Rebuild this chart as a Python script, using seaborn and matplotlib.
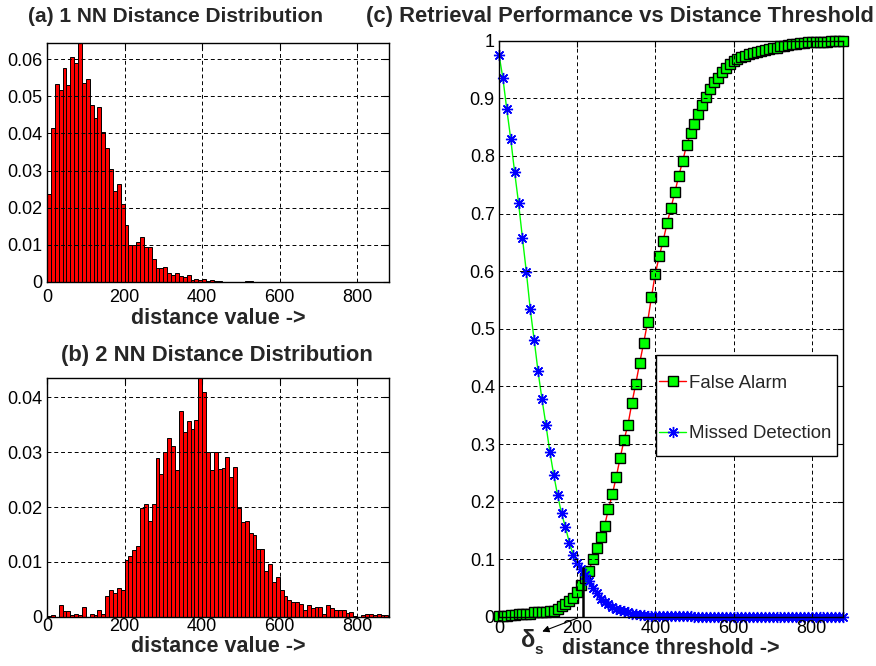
import numpy as np
import pandas as pd
import matplotlib
matplotlib.use("Agg")
import matplotlib.pyplot as plt
from matplotlib.patches import Rectangle
from matplotlib.ticker import FuncFormatter
import seaborn as sns

# histogram values, bin width 10 from 0 to 880 (fraction of samples per bin)
nn1_hist = [0.0238, 0.0415, 0.0533, 0.0517, 0.0578, 0.0530, 0.0607, 0.0589, 0.0660, 0.0535,
            0.0546, 0.0478, 0.0441, 0.0472, 0.0404, 0.0362, 0.0303, 0.0245, 0.0263, 0.0210,
            0.0153, 0.0099, 0.0099, 0.0107, 0.0120, 0.0095, 0.0093, 0.0060, 0.0038, 0.0038,
            0.0041, 0.0024, 0.0017, 0.0024, 0.0015, 0.0012, 0.0017, 0.0005, 0.0006, 0.0005,
            0.0006, 0.0003, 0.0005, 0.0002, 0.0001, 0, 0, 0, 0, 0,
            0, 0.0003, 0.0003, 0, 0, 0, 0, 0, 0, 0,
            0, 0, 0, 0, 0, 0, 0, 0, 0, 0,
            0, 0, 0, 0, 0, 0, 0, 0, 0, 0,
            0, 0, 0, 0, 0, 0, 0, 0]

nn2_hist = [0.0002, 0.0003, 0, 0.0021, 0.0010, 0.0010, 0.0004, 0.0005, 0.0004, 0.0017,
            0, 0.0005, 0.0004, 0.0013, 0.0005, 0.0037, 0.0049, 0.0043, 0.0052, 0.0049,
            0.0103, 0.0111, 0.0122, 0.0129, 0.0199, 0.0205, 0.0174, 0.0205, 0.0289, 0.0261,
            0.0300, 0.0326, 0.0312, 0.0268, 0.0376, 0.0337, 0.0357, 0.0343, 0.0359, 0.0440,
            0.0410, 0.0301, 0.0268, 0.0300, 0.0269, 0.0271, 0.0291, 0.0254, 0.0274, 0.0198,
            0.0172, 0.0175, 0.0153, 0.0149, 0.0123, 0.0123, 0.0083, 0.0096, 0.0064, 0.0072,
            0.0049, 0.0037, 0.0030, 0.0027, 0.0027, 0.0023, 0.0012, 0.0021, 0.0015, 0.0018,
            0.0018, 0.0005, 0.0021, 0.0015, 0.0012, 0.0012, 0.0012, 0.0006, 0.0009, 0.0001,
            0, 0.0003, 0.0005, 0.0005, 0.0003, 0.0005, 0.0003, 0.0003]

# retrieval curves, threshold 0..880 step 10
false_alarm = [0.002, 0.002, 0.002, 0.003, 0.004, 0.005, 0.005, 0.006, 0.006, 0.008,
               0.008, 0.008, 0.009, 0.010, 0.010, 0.014, 0.019, 0.023, 0.028, 0.033,
               0.044, 0.055, 0.067, 0.080, 0.100, 0.120, 0.138, 0.158, 0.187, 0.213,
               0.243, 0.276, 0.307, 0.334, 0.371, 0.405, 0.441, 0.475, 0.511, 0.555,
               0.596, 0.626, 0.653, 0.683, 0.710, 0.737, 0.766, 0.791, 0.819, 0.839,
               0.856, 0.873, 0.889, 0.903, 0.916, 0.928, 0.936, 0.946, 0.952, 0.960,
               0.964, 0.968, 0.971, 0.974, 0.977, 0.979, 0.980, 0.982, 0.984, 0.985,
               0.987, 0.988, 0.990, 0.991, 0.993, 0.994, 0.995, 0.996, 0.996, 0.997,
               0.997, 0.997, 0.997, 0.998, 0.998, 0.999, 0.999, 0.999, 1.000]

missed_detection = [0.976, 0.935, 0.881, 0.830, 0.772, 0.719, 0.658, 0.599, 0.534, 0.481,
                    0.426, 0.378, 0.334, 0.287, 0.247, 0.211, 0.180, 0.156, 0.129, 0.108,
                    0.093, 0.083, 0.073, 0.063, 0.051, 0.041, 0.032, 0.026, 0.022, 0.018,
                    0.014, 0.012, 0.010, 0.008, 0.006, 0.005, 0.003, 0.003, 0.002, 0.002,
                    0.001, 0.001, 0.001, 0.001, 0.001, 0.001, 0.001, 0.001, 0.001, 0.001,
                    0.0005, 0.0003, 0, 0, 0, 0, 0, 0, 0, 0,
                    0, 0, 0, 0, 0, 0, 0, 0, 0, 0,
                    0, 0, 0, 0, 0, 0, 0, 0, 0, 0,
                    0, 0, 0, 0, 0, 0, 0, 0, 0]

bin_width = 10
bin_centers = np.arange(bin_width / 2, 880, bin_width)
thresholds = np.arange(0, 880 + bin_width, bin_width)
delta_s = 215

sns.set_style("white")
plt.rcParams["font.family"] = ["Liberation Sans", "DejaVu Sans"]

fig = plt.figure(figsize=(8.76, 6.66), dpi=100)
ax_a = fig.add_axes([0.0537, 0.577, 0.3904, 0.3589])
ax_b = fig.add_axes([0.0537, 0.074, 0.3904, 0.358])
ax_c = fig.add_axes([0.5696, 0.0736, 0.3927, 0.8653])

fmt = FuncFormatter(lambda v, _: f"{v:g}")


def style_axes(ax, xpad=2):
    ax.grid(True, color="black", linestyle=(0, (4, 3)), linewidth=0.7)
    ax.set_axisbelow(False)
    for sp in ax.spines.values():
        sp.set_visible(True)
        sp.set_color("black")
        sp.set_linewidth(1.0)
    ax.tick_params(direction="in", length=4, width=0.8, top=True, right=True,
                   labelsize=13, colors="black")
    ax.tick_params(axis="x", pad=xpad)
    ax.tick_params(axis="y", pad=3)
    ax.yaxis.set_major_formatter(fmt)
    ax.xaxis.set_major_formatter(fmt)


# (a) and (b) histograms
for ax, vals, ymax, yt, xpad in [(ax_a, nn1_hist, 0.0645, np.arange(0, 0.061, 0.01), 5.5),
                                 (ax_b, nn2_hist, 0.0435, np.arange(0, 0.041, 0.01), 1.0)]:
    df = pd.DataFrame({"dist": bin_centers, "frac": vals})
    sns.histplot(data=df, x="dist", weights="frac", binwidth=bin_width,
                 binrange=(0, 880), ax=ax,
                 color="#ff0000", edgecolor="black", linewidth=0.7, alpha=1)
    ax.set_xlim(0, 882)
    ax.set_ylim(0, ymax)
    ax.set_xticks([0, 200, 400, 600, 800])
    ax.set_yticks(yt)
    ax.set_ylabel("")
    style_axes(ax, xpad)
    ax.set_xlabel("distance value ->", fontsize=15.5, fontweight="bold")

ax_a.xaxis.set_label_coords(0.5, -0.112)
ax_b.xaxis.set_label_coords(0.5, -0.08)

# (c) retrieval performance
sns.lineplot(x=thresholds, y=false_alarm, ax=ax_c, color="#ff0000", linewidth=1,
             marker="s", markersize=6.5, markerfacecolor="#00ff00",
             markeredgecolor="black", markeredgewidth=1, clip_on=False,
             estimator=None, label="False Alarm")
sns.lineplot(x=thresholds, y=missed_detection, ax=ax_c, color="#00ff00", linewidth=1,
             marker=(8, 2, 0), markersize=8, markerfacecolor="#0000ff",
             markeredgecolor="#0000ff", markeredgewidth=1, clip_on=False,
             estimator=None, label="Missed Detection")
ax_c.set_xlim(0, 880)
ax_c.set_ylim(0, 1)
ax_c.set_xticks([0, 200, 400, 600, 800])
ax_c.set_yticks(np.arange(0, 1.01, 0.1))
style_axes(ax_c)
ax_c.set_xlabel("distance threshold ->", fontsize=15.5, fontweight="bold")
ax_c.xaxis.set_label_coords(0.5, -0.036)

ax_c.plot([delta_s, delta_s], [0, 0.085], color="black", linewidth=1.8, zorder=5)
ax_c.annotate("", xy=(104, -0.027), xytext=(208, 0), annotation_clip=False,
              arrowprops=dict(arrowstyle="-|>", color="black", lw=0.8,
                              mutation_scale=10))
ax_c.text(74, -0.041, "δ", fontsize=17, fontweight="bold", ha="center",
          va="center", clip_on=False)
ax_c.text(102, -0.058, "s", fontsize=11, fontweight="bold", ha="center",
          va="center", clip_on=False)

# legend box drawn as in the reference, entries placed inside it
ax_c.add_patch(Rectangle((0.4555, 0.2794), 0.5262, 0.1757, transform=ax_c.transAxes,
                         facecolor="white", edgecolor="black", linewidth=1.0,
                         zorder=4.9, clip_on=False))
leg = ax_c.legend(loc="upper left", bbox_to_anchor=(0.466, 0.4205), borderaxespad=0,
                  borderpad=0, fontsize=13.4, frameon=False, labelspacing=1.8,
                  handlelength=1.45, handletextpad=0.15, numpoints=1)
leg.set_zorder(5)

# titles
fig.text(0.1998, 0.9745, "(a) 1 NN Distance Distribution", fontsize=15,
         fontweight="bold", ha="center", va="center")
fig.text(0.248, 0.4655, "(b) 2 NN Distance Distribution", fontsize=15.8,
         fontweight="bold", ha="center", va="center")
fig.text(0.7078, 0.9745, "(c) Retrieval Performance vs Distance Threshold",
         fontsize=15.8, fontweight="bold", ha="center", va="center")

fig.savefig("out.png", dpi=100)
